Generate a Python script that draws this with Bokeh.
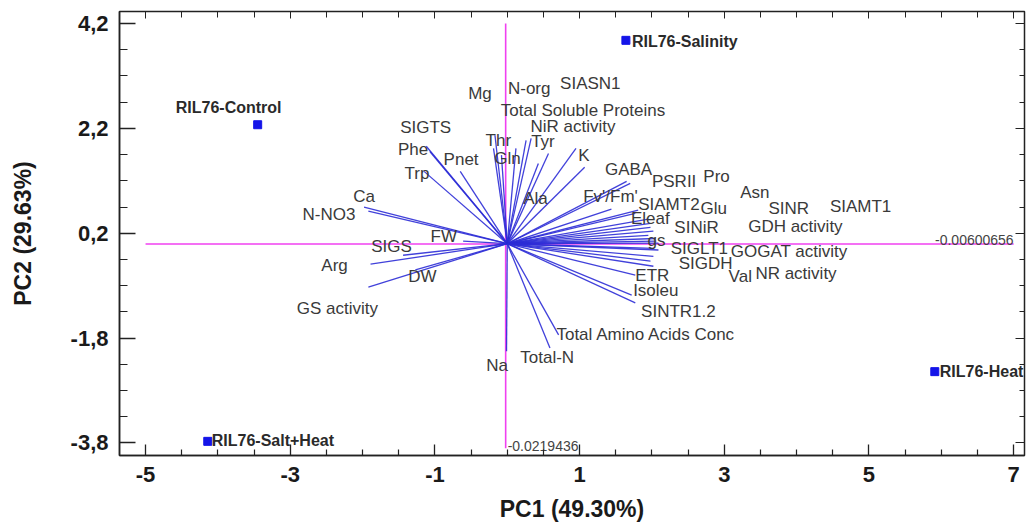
import numpy as np
from bokeh.plotting import figure
from bokeh.models import ColumnDataSource, FixedTicker, LinearAxis, Range1d, CustomJSTickFormatter
from bokeh.core.properties import value
from bokeh.embed import file_html
from bokeh.resources import INLINE

# ---------------- data ----------------
variables = ["SIGTS", "Phe", "Trp", "Pnet", "Ca", "N-NO3", "FW", "SIGS", "Arg", "DW",
             "GS activity", "Mg", "Thr", "Gln", "N-org", "Total Soluble Proteins",
             "NiR activity", "Tyr", "SIASN1", "K", "Ala", "GABA", "PSRII", "Fv'/Fm'",
             "SIAMT2", "Eleaf", "SINiR", "gs", "Pro", "Glu", "Asn", "SINR", "SIAMT1",
             "GDH activity", "SIGLT1", "GOGAT activity", "SIGDH", "Val", "NR activity",
             "ETR", "Isoleu", "SINTR1.2", "Total Amino Acids Conc", "Total-N", "Na"]
load_x = [-1.12, -1.07, -1.15, -0.65, -1.98, -1.92, -0.61, -1.44, -1.89, -1.27,
          -1.92, -0.19, -0.17, -0.08, 0.12, 0.26,
          0.33, 0.57, 0.43, 0.95, 1.07, 1.65, 1.70, 1.44,
          1.77, 1.95, 1.98, 1.95, 1.81, 1.98, 2.02, 2.05, 2.09,
          2.06, 2.02, 2.09, 2.02, 1.98, 2.02,
          1.77, 1.72, 1.77, 0.71, 0.59, -0.01]
load_y = [1.86, 1.76, 1.38, 1.38, 0.70, 0.62, 0.05, -0.22, -0.39, -0.50,
          -0.83, 1.82, 2.07, 1.69, 1.82, 1.97,
          2.01, 1.72, 1.53, 1.82, 1.46, 1.19, 1.15, 0.66,
          0.58, 0.47, 0.31, 0.16, 0.64, 0.39, 0.24, 0.10, 0.01,
          0.05, -0.09, -0.12, -0.24, -0.33, -0.43,
          -0.60, -0.98, -1.13, -1.74, -1.99, -2.05]
label_x = [-1.48, -1.51, -1.42, -0.88, -2.13, -2.83, -1.06, -1.88, -2.57, -1.37,
           -2.91, -0.54, -0.30, -0.18, 0.01, -0.09,
           0.32, 0.33, 0.73, 0.98, 0.22, 1.35, 2.00, 1.05,
           1.81, 1.71, 2.31, 1.94, 2.71, 2.67, 3.22, 3.61, 4.46,
           3.33, 2.26, 3.09, 2.37, 3.06, 3.43,
           1.77, 1.74, 1.85, 0.68, 0.18, -0.29]
label_y = [2.22, 1.80, 1.34, 1.61, 0.90, 0.56, 0.14, -0.05, -0.41, -0.62,
           -1.24, 2.86, 1.97, 1.62, 2.96, 2.54,
           2.23, 1.95, 3.06, 1.69, 0.87, 1.41, 1.19, 0.90,
           0.74, 0.49, 0.30, 0.07, 1.29, 0.68, 0.98, 0.67, 0.71,
           0.33, -0.09, -0.14, -0.38, -0.63, -0.56,
           -0.60, -0.89, -1.29, -1.74, -2.18, -2.32]

samples = ["RIL76-Control", "RIL76-Salinity", "RIL76-Heat", "RIL76-Salt+Heat"]
score_x = [-3.45, 1.64, 5.91, -4.14]
score_y = [2.27, 3.88, -2.44, -3.77]

x_ref = -0.0219436
y_ref = -0.00600656
x_ticks = [-5, -3, -1, 1, 3, 5, 7]
y_ticks = [-3.8, -1.8, 0.2, 2.2, 4.2]

# ---------------- figure ----------------
FONT = "Liberation Sans"
p = figure(frame_width=905, frame_height=444,
           x_range=Range1d(-5.36, 7.15), y_range=Range1d(-4.04, 4.43),
           output_backend="svg", toolbar_location=None,
           min_border_left=119, min_border_right=2, min_border_top=11, min_border_bottom=64)
p.background_fill_color = "white"
p.border_fill_color = "white"
p.outline_line_color = "#222222"
p.outline_line_width = 1.5
p.xgrid.grid_line_color = None
p.ygrid.grid_line_color = None

x_minor = [v for v in np.arange(-5.5, 7.01, 0.5) if round(v, 2) not in x_ticks]
y_minor = [round(v, 2) for v in np.arange(4.2, -4.1, -0.5) if round(v, 2) not in y_ticks]
xt = FixedTicker(ticks=x_ticks, minor_ticks=x_minor)
yt = FixedTicker(ticks=y_ticks, minor_ticks=y_minor)

xfmt = CustomJSTickFormatter(code="return tick.toFixed(0);")
yfmt = CustomJSTickFormatter(code="return tick.toFixed(1).replace('.', ',');")
blank = CustomJSTickFormatter(code="return '';")

xa = p.xaxis[0]
xa.ticker = xt
xa.formatter = xfmt
xa.axis_label = "PC1 (49.30%)"
ya = p.yaxis[0]
ya.ticker = yt
ya.formatter = yfmt
ya.axis_label = "PC2 (29.63%)"

for ax, tin, mtin in ((xa, 11, 6), (ya, 16, 8)):
    ax.major_tick_in = tin
    ax.major_tick_out = 0
    ax.minor_tick_in = mtin
    ax.minor_tick_out = 0
    ax.axis_line_color = "#222222"
    ax.axis_line_width = 1.5
    ax.major_tick_line_color = "#222222"
    ax.minor_tick_line_color = "#222222"
    ax.major_tick_line_width = 1.3
    ax.minor_tick_line_width = 1.2
    ax.major_label_text_font = FONT
    ax.major_label_text_font_style = "bold"
    ax.major_label_text_font_size = "22px"
    ax.major_label_text_color = "#1a1a1a"
    ax.axis_label_text_font = FONT
    ax.axis_label_text_font_style = "bold"
    ax.axis_label_text_font_size = "23px"
    ax.axis_label_text_color = "#1a1a1a"
xa.major_label_standoff = 11
xa.axis_label_standoff = 11
ya.major_label_standoff = 11
ya.axis_label_standoff = 32

top = LinearAxis(ticker=xt, formatter=blank, major_label_standoff=0,
                 major_tick_in=7, major_tick_out=0, minor_tick_in=6, minor_tick_out=0,
                 axis_line_color="#222222", major_tick_line_color="#222222",
                 minor_tick_line_color="#222222")
right = LinearAxis(ticker=yt, formatter=blank, major_label_standoff=0,
                   major_tick_in=9, major_tick_out=0, minor_tick_in=5, minor_tick_out=0,
                   axis_line_color="#222222", major_tick_line_color="#222222",
                   minor_tick_line_color="#222222")
p.add_layout(top, "above")
p.add_layout(right, "right")

# reference lines
MAG = "#f040f0"
p.segment(x0=[x_ticks[0]], y0=[y_ref], x1=[x_ticks[-1]], y1=[y_ref], line_color=MAG, line_width=1.6)
p.segment(x0=[x_ref], y0=[-3.9], x1=[x_ref], y1=[y_ticks[-1]], line_color=MAG, line_width=1.6)
p.text(x=[x_ticks[-1]], y=[y_ref], text=["%.8f" % y_ref], text_align="right", text_baseline="middle",
       y_offset=-4, text_font=value(FONT), text_font_size="14px", text_color="#444444")
p.text(x=[x_ref], y=[-3.85], text=["%.7f" % x_ref], text_align="left", text_baseline="middle",
       x_offset=2, text_font=value(FONT), text_font_size="14px", text_color="#444444")

# loadings
src = ColumnDataSource(dict(x0=[0.0] * len(variables), y0=[0.0] * len(variables),
                            x1=load_x, y1=load_y, lx=label_x, ly=label_y, name=variables))
p.segment(x0="x0", y0="y0", x1="x1", y1="y1", source=src, line_color="#2c2cd6",
          line_width=1.3, line_alpha=0.9)
p.text(x="lx", y="ly", text="name", source=src, text_align="left", text_baseline="middle",
       text_font=value(FONT), text_font_size="17px", text_color="#3a3a3a")

# scores
ss = ColumnDataSource(dict(x=score_x, y=score_y, name=samples))
p.scatter(x="x", y="y", source=ss, marker="square", size=8, fill_color="#1414e8",
          line_color="#1414e8")
sx_off = [-29, 6, 5, 4]
sy_off = [-17, 1, 0, -1]
aligns = ["center", "left", "left", "left"]
for i in range(len(samples)):
    p.text(x=[score_x[i]], y=[score_y[i]], text=[samples[i]], text_align=aligns[i],
           text_baseline="middle", x_offset=sx_off[i], y_offset=sy_off[i],
           text_font=value(FONT), text_font_style="bold", text_font_size="16px",
           text_color="#2a2a2a")

open("out.html", "w").write(file_html(p, INLINE))
